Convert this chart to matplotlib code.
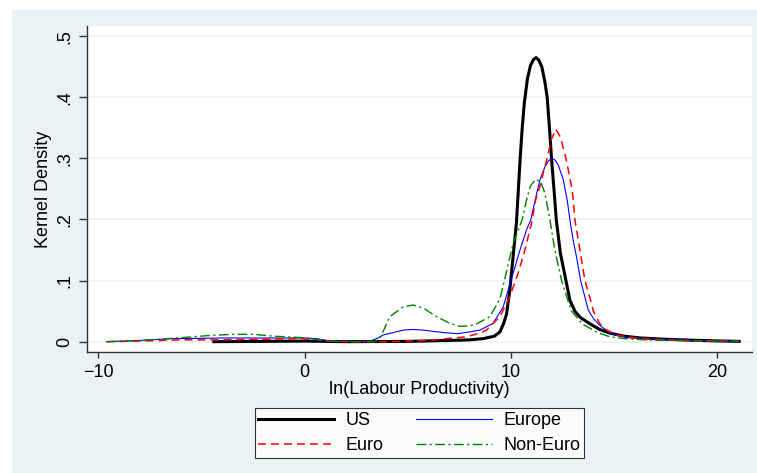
import numpy as np
import matplotlib.pyplot as plt
from matplotlib.patches import Rectangle

plt.rcParams['font.family'] = ['Liberation Sans', 'DejaVu Sans']

# --- data (kernel density estimates) ---
x_us = [-4.4, -2, 0, 2, 5, 7, 8, 8.66, 9.2, 9.47, 9.65, 9.79, 9.95, 10.11, 10.27,
        10.45, 10.55, 10.65, 10.8, 10.95, 11.1, 11.22, 11.35, 11.5, 11.65, 11.76,
        11.87, 11.97, 12.1, 12.2, 12.4, 12.67, 12.86, 13.1, 13.35, 13.8, 14.3,
        14.8, 15.5, 16.3, 17.5, 18.7, 20, 21.07]
y_us = [0.0, 0.0005, 0.001, 0.0, 0.0005, 0.002, 0.003, 0.005, 0.009, 0.016, 0.03,
        0.045, 0.085, 0.14, 0.195, 0.3, 0.35, 0.39, 0.43, 0.452, 0.462, 0.465,
        0.461, 0.45, 0.425, 0.4, 0.35, 0.3, 0.245, 0.2, 0.145, 0.1, 0.068, 0.05,
        0.04, 0.03, 0.02, 0.014, 0.009, 0.006, 0.004, 0.0025, 0.0012, 0.0005]

x_europe = [-9.6, -8, -6.4, -4, -2, 0, 0.6, 1.2, 2, 3.17, 3.5, 3.81, 4.3, 4.8,
            5.27, 5.75, 6.2, 6.72, 7.4, 8.0, 8.5, 9.14, 9.63, 9.87, 10.11, 10.44,
            10.76, 10.97, 11.2, 11.41, 11.65, 11.82, 11.99, 12.15, 12.3, 12.54,
            12.73, 12.86, 13.02, 13.18, 13.38, 13.75, 14.0, 14.3, 14.8, 15.5,
            16.5, 18, 19.5, 21.07]
y_europe = [0.0, 0.002, 0.005, 0.006, 0.006, 0.006, 0.005, 0.001, 0.0, 0.001,
            0.005, 0.011, 0.015, 0.019, 0.02, 0.019, 0.017, 0.015, 0.013, 0.016,
            0.019, 0.03, 0.057, 0.085, 0.112, 0.15, 0.183, 0.2, 0.235, 0.265,
            0.286, 0.296, 0.3, 0.297, 0.289, 0.265, 0.232, 0.2, 0.166, 0.139, 0.1,
            0.052, 0.038, 0.027, 0.014, 0.008, 0.005, 0.003, 0.0015, 0.0005]

x_euro = [-9.6, -8, -6, -4, -2, -0.5, 0.5, 1.2, 2, 4, 5, 6, 7.2, 7.85, 8.5, 8.82,
          9.47, 9.95, 10.35, 10.68, 11.0, 11.2, 11.4, 11.6, 11.76, 11.95, 12.18,
          12.4, 12.67, 12.82, 12.94, 13.02, 13.1, 13.35, 13.59, 13.83, 14.0, 14.3,
          14.6, 15.1, 16, 17.5, 19, 21.07]
y_euro = [0.0, 0.001, 0.003, 0.003, 0.004, 0.005, 0.004, 0.001, 0.0, 0.0, 0.001,
          0.002, 0.006, 0.008, 0.014, 0.019, 0.041, 0.074, 0.112, 0.15, 0.194,
          0.232, 0.254, 0.28, 0.3, 0.33, 0.348, 0.335, 0.3, 0.275, 0.254, 0.235,
          0.2, 0.15, 0.1, 0.072, 0.05, 0.03, 0.02, 0.011, 0.006, 0.003, 0.0015,
          0.0005]

x_noneuro = [-9.6, -8, -6.4, -4.75, -3.5, -2.5, -1.5, -0.1, 0.5, 1.0, 2, 3.4,
             3.65, 4.13, 4.78, 5.27, 5.75, 6.4, 7.04, 7.53, 8.0, 8.33, 8.98, 9.47,
             9.79, 10.11, 10.55, 10.76, 10.95, 11.21, 11.45, 11.65, 11.89, 12.13,
             12.46, 12.7, 12.94, 13.5, 13.83, 14.2, 14.8, 15.5, 16.5, 18, 19.5,
             21.07]
y_noneuro = [0.0, 0.002, 0.0055, 0.0098, 0.012, 0.012, 0.009, 0.0066, 0.004,
             0.001, 0.0, 0.0, 0.005, 0.041, 0.057, 0.06, 0.055, 0.041, 0.03, 0.025,
             0.026, 0.029, 0.041, 0.07, 0.115, 0.161, 0.2, 0.232, 0.255, 0.266,
             0.261, 0.243, 0.2, 0.15, 0.1, 0.074, 0.05, 0.028, 0.022, 0.015, 0.008,
             0.005, 0.003, 0.002, 0.001, 0.0005]

yticks = [0, 0.1, 0.2, 0.3, 0.4, 0.5]
ytick_labels = ['0', '.1', '.2', '.3', '.4', '.5']
xticks = [-10, 0, 10, 20]

FS = 13

fig = plt.figure(figsize=(7.57, 4.73), dpi=100)
fig.patch.set_facecolor('white')
# stata-like light background behind the plot region
fig.patches.append(Rectangle((12 / 757, 0), 1, 1 - 10 / 473, transform=fig.transFigure,
                             facecolor='#EAF2F3', edgecolor='none', zorder=-1))

ax = fig.add_axes([87 / 757, 1 - 352 / 473, (752 - 87) / 757, (352 - 26) / 473])
ax.set_facecolor('white')

l_us, = ax.plot(x_us, y_us, color='black', lw=2.2, label='US')
l_eu, = ax.plot(x_europe, y_europe, color='blue', lw=0.8, label='Europe')
l_euro, = ax.plot(x_euro, y_euro, color='red', lw=1.1, ls=(0, (5.2, 3.3)), label='Euro')
l_ne, = ax.plot(x_noneuro, y_noneuro, color='green', lw=1.0,
                ls=(0, (7, 2.5, 1.5, 2.5)), label='Non-Euro')

ax.set_xlim(-10.55, 21.69)
ax.set_ylim(-0.0169, 0.5167)

ax.set_yticks(yticks)
ax.set_yticklabels(ytick_labels, rotation=90, va='center')
ax.set_xticks(xticks)
ax.tick_params(axis='both', labelsize=FS, color='#333333', width=1)
ax.tick_params(axis='y', length=5.8, pad=4)
ax.tick_params(axis='x', length=4.5, pad=4)

ax.grid(axis='y', color='#EAF2F3', lw=1.2)
ax.set_axisbelow(True)
for s in ['top', 'right']:
    ax.spines[s].set_visible(False)
for s in ['left', 'bottom']:
    ax.spines[s].set_color('#333333')
    ax.spines[s].set_linewidth(1)

ax.set_ylabel('Kernel Density', fontsize=FS, va='center')
ax.yaxis.set_label_coords(-0.066, 0.5)
ax.set_xlabel('ln(Labour Productivity)', fontsize=FS, labelpad=0)

# legend: stata fills rows first, matplotlib fills columns
leg = fig.legend([l_us, l_euro, l_eu, l_ne], ['US', 'Euro', 'Europe', 'Non-Euro'],
                 loc='center', bbox_to_anchor=(419.5 / 757, 1 - 433 / 473), ncol=2,
                 fontsize=FS, frameon=True, fancybox=False, handlelength=4.2,
                 handletextpad=0.65, columnspacing=1.8, borderpad=0.2,
                 labelspacing=0.45)
leg.get_frame().set_edgecolor('black')
leg.get_frame().set_linewidth(0.8)

fig.savefig('out.png', dpi=100, facecolor=fig.get_facecolor())
